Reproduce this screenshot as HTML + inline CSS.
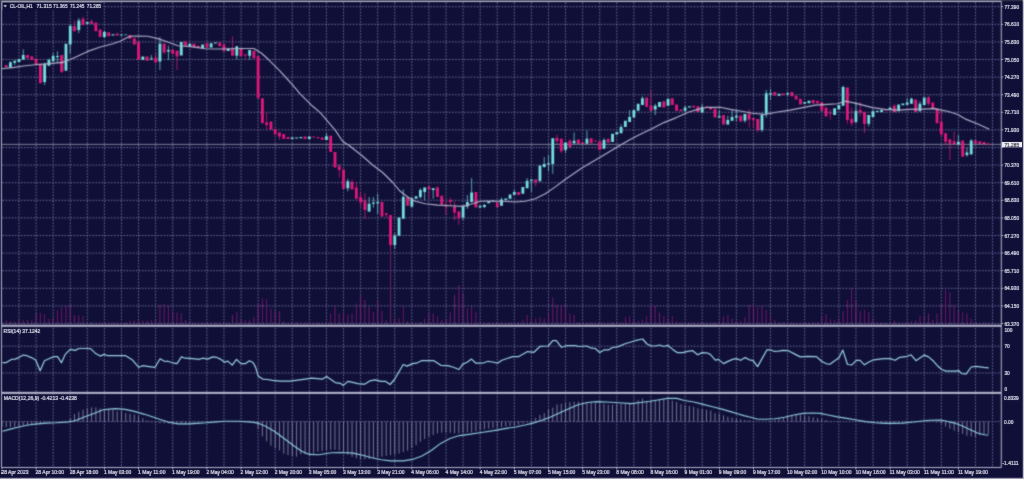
<!DOCTYPE html><html><head><meta charset="utf-8"><style>html,body{margin:0;padding:0;background:#0f0f37;overflow:hidden}svg{display:block}</style></head><body><svg width="1024" height="479" viewBox="0 0 1024 479">
<defs><filter id="b" x="0" y="0" width="1" height="1"><feConvolveMatrix order="3" kernelMatrix="1 2 1 2 10 2 1 2 1" divisor="22" edgeMode="duplicate"/></filter><filter id="t" x="0" y="0" width="1" height="1"><feConvolveMatrix order="3" kernelMatrix="0 1 0 1 16 1 0 1 0" divisor="20" edgeMode="duplicate"/></filter></defs>
<rect width="1024" height="479" fill="#0f0f37"/>
<g filter="url(#b)">
<path d="M19.00 2.5V467 M36.08 2.5V467 M53.16 2.5V467 M70.24 2.5V467 M87.32 2.5V467 M104.40 2.5V467 M121.48 2.5V467 M138.56 2.5V467 M155.64 2.5V467 M172.72 2.5V467 M189.80 2.5V467 M206.88 2.5V467 M223.96 2.5V467 M241.04 2.5V467 M258.12 2.5V467 M275.20 2.5V467 M292.28 2.5V467 M309.36 2.5V467 M326.44 2.5V467 M343.52 2.5V467 M360.60 2.5V467 M377.68 2.5V467 M394.76 2.5V467 M411.84 2.5V467 M428.92 2.5V467 M446.00 2.5V467 M463.08 2.5V467 M480.16 2.5V467 M497.24 2.5V467 M514.32 2.5V467 M531.40 2.5V467 M548.48 2.5V467 M565.56 2.5V467 M582.64 2.5V467 M599.72 2.5V467 M616.80 2.5V467 M633.88 2.5V467 M650.96 2.5V467 M668.04 2.5V467 M685.12 2.5V467 M702.20 2.5V467 M719.28 2.5V467 M736.36 2.5V467 M753.44 2.5V467 M770.52 2.5V467 M787.60 2.5V467 M804.68 2.5V467 M821.76 2.5V467 M838.84 2.5V467 M855.92 2.5V467 M873.00 2.5V467 M890.08 2.5V467 M907.16 2.5V467 M924.24 2.5V467 M941.32 2.5V467 M958.40 2.5V467 M975.48 2.5V467 M992.56 2.5V467" stroke="#7878ac" stroke-width="0.9" stroke-dasharray="1.5 1.6" fill="none"/>
<path d="M2.5 6.70H1001 M2.5 24.30H1001 M2.5 41.90H1001 M2.5 59.50H1001 M2.5 77.10H1001 M2.5 94.70H1001 M2.5 112.30H1001 M2.5 129.90H1001 M2.5 147.50H1001 M2.5 165.10H1001 M2.5 182.70H1001 M2.5 200.30H1001 M2.5 217.90H1001 M2.5 235.50H1001 M2.5 253.10H1001 M2.5 270.70H1001 M2.5 288.30H1001 M2.5 305.90H1001 M2.5 323.50H1001 M2.5 346.20H1001 M2.5 373.00H1001 M2.5 421.60H1001" stroke="#7878ac" stroke-width="0.9" stroke-dasharray="1.5 1.6" fill="none"/>
<rect x="2.2" y="2.2" width="100.8" height="7.6" fill="#0f0f37"/>
<path d="M6.19 323.8V320.40 M10.46 323.8V321.00 M14.73 323.8V321.50 M19.00 323.8V319.80 M23.27 323.8V319.80 M27.54 323.8V319.80 M31.81 323.8V320.40 M36.08 323.8V314.00 M40.35 323.8V312.90 M44.62 323.8V314.00 M48.89 323.8V318.50 M53.16 323.8V318.00 M57.43 323.8V309.80 M61.70 323.8V307.30 M65.97 323.8V306.00 M70.24 323.8V304.80 M74.51 323.8V315.40 M78.78 323.8V315.40 M83.05 323.8V316.00 M87.32 323.8V322.00 M91.59 323.8V322.20 M95.86 323.8V322.20 M100.13 323.8V322.20 M104.40 323.8V322.20 M108.67 323.8V322.20 M112.94 323.8V322.20 M117.21 323.8V322.20 M121.48 323.8V322.20 M125.75 323.8V322.20 M130.02 323.8V320.60 M134.29 323.8V320.60 M138.56 323.8V320.00 M142.83 323.8V320.60 M147.10 323.8V320.60 M151.37 323.8V320.00 M155.64 323.8V320.00 M159.91 323.8V305.00 M164.18 323.8V303.75 M168.45 323.8V305.60 M172.72 323.8V311.90 M176.99 323.8V312.50 M181.26 323.8V313.10 M185.53 323.8V320.00 M189.80 323.8V321.00 M194.07 323.8V322.20 M198.34 323.8V322.20 M202.61 323.8V322.20 M206.88 323.8V322.20 M211.15 323.8V322.20 M215.42 323.8V322.20 M219.69 323.8V322.20 M223.96 323.8V322.20 M228.23 323.8V322.20 M232.50 323.8V315.00 M236.77 323.8V312.00 M241.04 323.8V319.50 M245.31 323.8V320.00 M249.58 323.8V320.00 M253.85 323.8V317.00 M258.12 323.8V303.50 M262.39 323.8V298.50 M266.66 323.8V299.00 M270.93 323.8V308.50 M275.20 323.8V311.00 M279.47 323.8V311.00 M283.74 323.8V321.00 M288.01 323.8V322.20 M292.28 323.8V322.20 M296.55 323.8V322.20 M300.82 323.8V322.20 M305.09 323.8V322.20 M309.36 323.8V322.20 M313.63 323.8V322.20 M317.90 323.8V322.20 M322.17 323.8V322.20 M326.44 323.8V322.20 M330.71 323.8V313.50 M334.98 323.8V306.00 M339.25 323.8V313.50 M343.52 323.8V312.00 M347.79 323.8V314.75 M352.06 323.8V313.50 M356.33 323.8V303.50 M360.60 323.8V296.00 M364.87 323.8V299.75 M369.14 323.8V307.00 M373.41 323.8V312.00 M377.68 323.8V299.75 M381.95 323.8V311.00 M386.22 323.8V320.00 M390.49 323.8V250.00 M394.76 323.8V319.75 M399.03 323.8V318.50 M403.30 323.8V306.00 M407.57 323.8V321.00 M411.84 323.8V322.20 M416.11 323.8V322.20 M420.38 323.8V322.20 M424.65 323.8V318.50 M428.92 323.8V312.25 M433.19 323.8V313.50 M437.46 323.8V316.00 M441.73 323.8V319.75 M446.00 323.8V319.75 M450.27 323.8V312.25 M454.54 323.8V294.75 M458.81 323.8V284.75 M463.08 323.8V293.50 M467.35 323.8V308.50 M471.62 323.8V306.00 M475.89 323.8V312.25 M480.16 323.8V321.00 M484.43 323.8V322.20 M488.70 323.8V322.20 M492.97 323.8V322.20 M497.24 323.8V322.20 M501.51 323.8V322.20 M505.78 323.8V322.20 M510.05 323.8V322.20 M514.32 323.8V322.20 M518.59 323.8V322.20 M522.86 323.8V319.75 M527.13 323.8V314.75 M531.40 323.8V318.50 M535.67 323.8V318.50 M539.94 323.8V317.25 M544.21 323.8V318.50 M548.48 323.8V312.25 M552.75 323.8V297.25 M557.02 323.8V304.75 M561.29 323.8V304.75 M565.56 323.8V304.75 M569.83 323.8V313.50 M574.10 323.8V314.75 M578.37 323.8V322.20 M582.64 323.8V322.20 M586.91 323.8V322.20 M591.18 323.8V322.20 M595.45 323.8V322.20 M599.72 323.8V322.20 M603.99 323.8V322.20 M608.26 323.8V322.20 M612.53 323.8V322.20 M616.80 323.8V322.20 M621.07 323.8V322.20 M625.34 323.8V317.25 M629.61 323.8V316.00 M633.88 323.8V319.75 M638.15 323.8V320.50 M642.42 323.8V319.75 M646.69 323.8V316.00 M650.96 323.8V304.75 M655.23 323.8V306.00 M659.50 323.8V312.25 M663.77 323.8V316.00 M668.04 323.8V318.50 M672.31 323.8V316.00 M676.58 323.8V321.00 M680.85 323.8V322.20 M685.12 323.8V322.20 M689.39 323.8V322.20 M693.66 323.8V322.20 M697.93 323.8V322.20 M702.20 323.8V322.20 M706.47 323.8V322.20 M710.74 323.8V322.20 M715.01 323.8V322.20 M719.28 323.8V321.00 M723.55 323.8V316.00 M727.82 323.8V314.75 M732.09 323.8V318.50 M736.36 323.8V321.00 M740.63 323.8V321.00 M744.90 323.8V317.25 M749.17 323.8V304.75 M753.44 323.8V304.75 M757.71 323.8V307.25 M761.98 323.8V306.00 M766.25 323.8V309.75 M770.52 323.8V314.75 M774.79 323.8V320.00 M779.06 323.8V322.20 M783.33 323.8V322.20 M787.60 323.8V322.20 M791.87 323.8V322.20 M796.14 323.8V322.20 M800.41 323.8V322.20 M804.68 323.8V322.20 M808.95 323.8V322.20 M813.22 323.8V322.20 M817.49 323.8V322.20 M821.76 323.8V316.00 M826.03 323.8V314.00 M830.30 323.8V319.00 M834.57 323.8V320.00 M838.84 323.8V318.50 M843.11 323.8V311.00 M847.38 323.8V299.75 M851.65 323.8V288.50 M855.92 323.8V301.00 M860.19 323.8V311.00 M864.46 323.8V310.00 M868.73 323.8V312.00 M873.00 323.8V318.50 M877.27 323.8V322.20 M881.54 323.8V322.20 M885.81 323.8V322.20 M890.08 323.8V322.20 M894.35 323.8V320.50 M898.62 323.8V322.20 M902.89 323.8V322.20 M907.16 323.8V322.20 M911.43 323.8V321.00 M915.70 323.8V320.50 M919.97 323.8V316.00 M924.24 323.8V314.75 M928.51 323.8V313.50 M932.78 323.8V319.75 M937.05 323.8V313.50 M941.32 323.8V304.75 M945.59 323.8V289.75 M949.86 323.8V292.25 M954.13 323.8V304.75 M958.40 323.8V311.00 M962.67 323.8V312.25 M966.94 323.8V313.50 M971.21 323.8V318.50 M975.48 323.8V322.20 M979.75 323.8V322.20 M984.02 323.8V322.20 M988.29 323.8V322.20" stroke="#8a1e78" stroke-width="0.8" fill="none"/>
<path d="M2 144.4H1001" stroke="#9c9cb0" stroke-width="0.8"/>
<path d="M10.46 61.30V67.60 M14.73 60.70V65.00 M23.27 49.40V60.00 M44.62 62.80V85.10 M48.89 58.60V65.70 M53.16 53.20V61.30 M57.43 51.30V62.60 M70.24 24.40V53.80 M78.78 18.10V33.20 M104.40 30.70V38.20 M151.37 55.10V60.10 M159.91 37.00V70.00 M168.45 45.70V60.10 M236.77 46.30V59.40 M249.58 50.00V59.40 M326.44 133.20V140.00 M347.79 178.80V191.30 M369.14 197.00V212.00 M373.41 197.00V207.60 M377.68 193.80V213.90 M394.76 233.20V248.90 M403.30 189.40V218.80 M411.84 197.00V207.50 M420.38 188.20V198.80 M424.65 187.60V200.10 M433.19 188.20V198.80 M463.08 205.70V220.10 M467.35 195.00V208.90 M471.62 178.20V202.60 M484.43 203.80V208.20 M501.51 197.60V205.70 M514.32 190.10V194.80 M527.13 178.20V188.20 M531.40 179.40V191.90 M544.21 157.00V167.60 M548.48 155.10V171.40 M552.75 138.20V173.90 M565.56 142.60V153.20 M574.10 132.50V144.40 M586.91 130.70V143.80 M603.99 138.20V148.80 M621.07 124.40V133.20 M629.61 110.10V122.00 M642.42 96.30V105.10 M655.23 103.80V115.10 M685.12 105.70V112.00 M702.20 103.80V112.60 M719.28 110.00V117.60 M727.82 115.70V124.50 M732.09 110.10V120.70 M736.36 110.10V121.40 M744.90 114.00V122.60 M761.98 112.60V132.00 M766.25 90.00V117.60 M770.52 88.80V100.10 M787.60 91.90V95.70 M843.11 85.60V105.70 M855.92 101.90V123.20 M868.73 115.10V126.40 M873.00 109.40V117.00 M907.16 98.20V104.80 M911.43 97.50V103.80 M919.97 101.30V111.30 M958.40 135.00V145.00 M966.94 147.60V156.80 M971.21 139.20V155.10" stroke="#78e0e0" stroke-width="0.7" fill="none"/>
<path d="M9.06 62.30h2.8v5.30h-2.8z M13.33 60.70h2.8v2.10h-2.8z M17.60 59.10h2.8v2.90h-2.8z M21.87 55.10h2.8v4.30h-2.8z M43.22 63.80h2.8v18.20h-2.8z M47.49 60.10h2.8v5.60h-2.8z M51.76 56.10h2.8v5.20h-2.8z M56.03 56.10h2.8v1.00h-2.8z M64.57 43.80h2.8v26.90h-2.8z M68.84 26.00h2.8v18.40h-2.8z M77.38 20.60h2.8v9.40h-2.8z M85.92 21.90h2.8v1.90h-2.8z M103.00 31.90h2.8v5.10h-2.8z M111.54 34.20h2.8v1.20h-2.8z M120.08 34.60h2.8v0.80h-2.8z M124.35 34.40h2.8v0.80h-2.8z M141.43 56.40h2.8v3.60h-2.8z M149.97 58.60h2.8v0.80h-2.8z M158.51 43.80h2.8v17.60h-2.8z M167.05 50.00h2.8v1.40h-2.8z M179.86 42.00h2.8v13.40h-2.8z M188.40 43.80h2.8v2.50h-2.8z M201.21 44.40h2.8v3.80h-2.8z M209.75 43.20h2.8v4.30h-2.8z M214.02 42.60h2.8v1.00h-2.8z M226.83 48.50h2.8v2.50h-2.8z M235.37 46.30h2.8v9.40h-2.8z M248.18 50.00h2.8v5.70h-2.8z M290.88 137.60h2.8v1.30h-2.8z M295.15 137.60h2.8v1.00h-2.8z M299.42 137.00h2.8v1.30h-2.8z M307.96 136.40h2.8v2.50h-2.8z M325.04 136.30h2.8v3.70h-2.8z M346.39 181.30h2.8v6.90h-2.8z M367.74 203.80h2.8v7.60h-2.8z M372.01 202.60h2.8v1.20h-2.8z M376.28 202.00h2.8v1.20h-2.8z M393.36 235.70h2.8v9.40h-2.8z M397.63 217.50h2.8v18.20h-2.8z M401.90 197.00h2.8v21.80h-2.8z M410.44 198.20h2.8v8.20h-2.8z M414.71 196.30h2.8v2.50h-2.8z M418.98 190.00h2.8v7.00h-2.8z M423.25 187.60h2.8v4.30h-2.8z M431.79 188.20h2.8v1.90h-2.8z M461.68 205.70h2.8v11.90h-2.8z M465.95 202.00h2.8v4.40h-2.8z M470.22 192.60h2.8v9.40h-2.8z M478.76 205.70h2.8v1.90h-2.8z M483.03 205.10h2.8v1.90h-2.8z M487.30 201.30h2.8v1.90h-2.8z M491.57 200.50h2.8v1.00h-2.8z M500.11 199.50h2.8v6.20h-2.8z M504.38 198.60h2.8v1.50h-2.8z M508.65 194.40h2.8v4.40h-2.8z M512.92 191.90h2.8v2.90h-2.8z M521.46 186.90h2.8v6.90h-2.8z M525.73 180.70h2.8v7.50h-2.8z M530.00 179.40h2.8v1.30h-2.8z M538.54 165.60h2.8v15.70h-2.8z M542.81 163.90h2.8v3.10h-2.8z M547.08 163.20h2.8v1.30h-2.8z M551.35 138.20h2.8v25.70h-2.8z M564.16 142.60h2.8v7.50h-2.8z M572.70 140.70h2.8v2.50h-2.8z M585.51 138.80h2.8v5.00h-2.8z M602.59 140.00h2.8v8.80h-2.8z M611.13 133.80h2.8v8.10h-2.8z M615.40 131.90h2.8v2.50h-2.8z M619.67 126.90h2.8v6.30h-2.8z M623.94 120.70h2.8v6.30h-2.8z M628.21 117.00h2.8v5.00h-2.8z M632.48 110.10h2.8v7.50h-2.8z M636.75 103.80h2.8v6.90h-2.8z M641.02 98.20h2.8v6.90h-2.8z M653.83 105.70h2.8v3.70h-2.8z M658.10 101.90h2.8v5.00h-2.8z M666.64 98.80h2.8v6.90h-2.8z M683.72 107.60h2.8v3.10h-2.8z M687.99 106.30h2.8v1.30h-2.8z M700.80 106.90h2.8v5.70h-2.8z M717.88 116.30h2.8v1.30h-2.8z M726.42 120.10h2.8v4.40h-2.8z M730.69 117.00h2.8v3.70h-2.8z M734.96 115.70h2.8v1.90h-2.8z M743.50 114.00h2.8v6.70h-2.8z M760.58 115.10h2.8v15.00h-2.8z M764.85 93.20h2.8v20.60h-2.8z M769.12 93.20h2.8v1.20h-2.8z M777.66 93.80h2.8v1.90h-2.8z M786.20 93.20h2.8v1.20h-2.8z M803.28 101.90h2.8v1.90h-2.8z M807.55 100.70h2.8v2.50h-2.8z M833.17 108.20h2.8v6.90h-2.8z M837.44 105.10h2.8v4.40h-2.8z M841.71 86.90h2.8v18.80h-2.8z M854.52 110.70h2.8v11.30h-2.8z M867.33 115.10h2.8v8.70h-2.8z M871.60 111.30h2.8v5.70h-2.8z M875.87 110.70h2.8v1.30h-2.8z M880.14 110.00h2.8v2.00h-2.8z M888.68 107.60h2.8v1.80h-2.8z M897.22 104.40h2.8v6.90h-2.8z M901.49 103.50h2.8v1.80h-2.8z M905.76 102.50h2.8v2.30h-2.8z M910.03 98.80h2.8v5.00h-2.8z M918.57 103.80h2.8v7.50h-2.8z M922.84 97.50h2.8v7.50h-2.8z M957.00 141.70h2.8v2.50h-2.8z M965.54 152.60h2.8v2.50h-2.8z M969.81 140.50h2.8v13.80h-2.8z" fill="#78e0e0"/>
<path d="M36.08 58.00V63.80 M61.70 55.10V73.20 M74.51 20.60V31.30 M83.05 16.90V25.00 M91.59 19.40V23.80 M155.64 53.20V62.60 M164.18 43.80V53.90 M176.99 50.70V70.00 M232.50 36.30V55.70 M245.31 53.80V59.40 M266.66 112.60V130.00 M279.47 132.60V140.00 M339.25 164.00V177.50 M352.06 179.40V189.40 M356.33 182.50V198.80 M360.60 192.00V206.40 M364.87 193.20V218.90 M386.22 212.50V217.50 M390.49 215.00V250.00 M428.92 185.00V198.80 M437.46 186.30V197.00 M446.00 201.30V215.10 M450.27 197.60V206.40 M454.54 201.30V220.10 M458.81 211.40V225.00 M535.67 179.40V186.30 M557.02 134.40V143.80 M561.29 138.80V153.20 M569.83 138.80V148.80 M650.96 90.00V110.70 M749.17 108.80V127.60 M753.44 118.20V127.60 M757.71 118.90V132.60 M830.30 108.80V119.50 M847.38 87.50V123.90 M851.65 107.60V126.40 M860.19 101.90V116.40 M864.46 112.00V133.20 M894.35 103.80V112.00 M928.51 95.60V105.70 M941.32 111.30V136.40 M945.59 133.20V145.10 M949.86 139.20V160.00 M954.13 131.70V144.20 M988.29 142.60V145.30" stroke="#e2187c" stroke-width="0.7" fill="none"/>
<path d="M4.79 65.10h2.8v1.90h-2.8z M26.14 55.10h2.8v3.10h-2.8z M30.41 56.30h2.8v3.50h-2.8z M34.68 59.10h2.8v4.70h-2.8z M38.95 63.80h2.8v19.50h-2.8z M60.30 55.10h2.8v16.90h-2.8z M73.11 26.30h2.8v5.00h-2.8z M81.65 18.80h2.8v6.20h-2.8z M90.19 21.30h2.8v2.50h-2.8z M94.46 22.50h2.8v8.80h-2.8z M98.73 29.40h2.8v7.60h-2.8z M107.27 32.30h2.8v4.00h-2.8z M115.81 33.60h2.8v1.80h-2.8z M128.62 35.00h2.8v3.80h-2.8z M132.89 38.20h2.8v6.30h-2.8z M137.16 42.00h2.8v18.00h-2.8z M145.70 56.40h2.8v4.40h-2.8z M154.24 57.60h2.8v5.00h-2.8z M162.78 43.80h2.8v8.80h-2.8z M171.32 49.50h2.8v4.40h-2.8z M175.59 50.70h2.8v5.70h-2.8z M184.13 41.30h2.8v4.40h-2.8z M192.67 43.80h2.8v3.10h-2.8z M196.94 45.70h2.8v1.80h-2.8z M205.48 43.20h2.8v4.30h-2.8z M218.29 42.50h2.8v3.80h-2.8z M222.56 44.40h2.8v6.90h-2.8z M231.10 48.80h2.8v6.90h-2.8z M239.64 48.20h2.8v8.10h-2.8z M243.91 54.50h2.8v1.00h-2.8z M252.45 50.70h2.8v7.50h-2.8z M256.72 56.30h2.8v41.90h-2.8z M260.99 98.20h2.8v25.00h-2.8z M265.26 122.60h2.8v2.50h-2.8z M269.53 121.40h2.8v8.10h-2.8z M273.80 128.90h2.8v5.60h-2.8z M278.07 132.60h2.8v3.80h-2.8z M282.34 133.90h2.8v5.00h-2.8z M286.61 137.00h2.8v1.90h-2.8z M303.69 136.40h2.8v2.50h-2.8z M312.23 136.40h2.8v1.20h-2.8z M316.50 137.00h2.8v1.20h-2.8z M320.77 137.50h2.8v2.30h-2.8z M329.31 135.70h2.8v16.30h-2.8z M333.58 152.00h2.8v15.60h-2.8z M337.85 166.30h2.8v3.70h-2.8z M342.12 169.40h2.8v19.40h-2.8z M350.66 181.90h2.8v7.50h-2.8z M354.93 187.60h2.8v11.20h-2.8z M359.20 197.00h2.8v5.60h-2.8z M363.47 200.70h2.8v9.40h-2.8z M380.55 202.00h2.8v14.40h-2.8z M384.82 213.50h2.8v1.50h-2.8z M389.09 215.00h2.8v30.10h-2.8z M406.17 197.60h2.8v8.10h-2.8z M427.52 187.00h2.8v2.00h-2.8z M436.06 187.60h2.8v9.40h-2.8z M440.33 195.70h2.8v8.80h-2.8z M444.60 205.00h2.8v1.50h-2.8z M448.87 200.00h2.8v2.00h-2.8z M453.14 207.00h2.8v5.60h-2.8z M457.41 211.40h2.8v6.90h-2.8z M474.49 191.90h2.8v15.70h-2.8z M495.84 202.60h2.8v4.40h-2.8z M517.19 191.90h2.8v3.20h-2.8z M534.27 179.40h2.8v3.10h-2.8z M555.62 138.00h2.8v3.00h-2.8z M559.89 138.80h2.8v12.50h-2.8z M568.43 140.70h2.8v6.20h-2.8z M576.97 139.40h2.8v4.40h-2.8z M581.24 141.90h2.8v1.90h-2.8z M589.78 138.20h2.8v5.00h-2.8z M594.05 140.50h2.8v1.00h-2.8z M598.32 141.30h2.8v8.80h-2.8z M606.86 138.80h2.8v3.80h-2.8z M645.29 97.50h2.8v9.40h-2.8z M649.56 105.70h2.8v5.00h-2.8z M662.37 101.30h2.8v6.30h-2.8z M670.91 98.20h2.8v6.90h-2.8z M675.18 104.40h2.8v6.30h-2.8z M679.45 109.40h2.8v1.90h-2.8z M692.26 105.70h2.8v1.90h-2.8z M696.53 106.30h2.8v5.70h-2.8z M705.07 106.50h2.8v1.50h-2.8z M709.34 106.90h2.8v2.50h-2.8z M713.61 108.80h2.8v8.80h-2.8z M722.15 115.10h2.8v9.40h-2.8z M739.23 115.40h2.8v6.00h-2.8z M747.77 113.80h2.8v5.70h-2.8z M752.04 118.20h2.8v1.90h-2.8z M756.31 118.90h2.8v11.20h-2.8z M773.39 91.90h2.8v3.80h-2.8z M781.93 93.50h2.8v1.80h-2.8z M790.47 91.90h2.8v4.40h-2.8z M794.74 95.70h2.8v3.70h-2.8z M799.01 98.80h2.8v5.60h-2.8z M811.82 100.10h2.8v3.10h-2.8z M816.09 100.70h2.8v2.50h-2.8z M820.36 101.90h2.8v8.80h-2.8z M824.63 107.60h2.8v8.80h-2.8z M828.90 112.50h2.8v1.00h-2.8z M845.98 87.50h2.8v32.60h-2.8z M850.25 118.90h2.8v4.30h-2.8z M858.79 110.10h2.8v2.40h-2.8z M863.06 112.00h2.8v11.90h-2.8z M884.41 109.50h2.8v1.00h-2.8z M892.95 105.70h2.8v6.30h-2.8z M914.30 99.40h2.8v12.60h-2.8z M927.11 97.50h2.8v6.30h-2.8z M931.38 102.50h2.8v6.30h-2.8z M935.65 108.80h2.8v14.40h-2.8z M939.92 122.00h2.8v12.50h-2.8z M944.19 133.20h2.8v8.50h-2.8z M948.46 139.20h2.8v4.20h-2.8z M952.73 141.30h2.8v2.90h-2.8z M961.27 140.50h2.8v16.30h-2.8z M974.08 140.50h2.8v2.90h-2.8z M978.35 141.30h2.8v2.50h-2.8z M982.62 142.10h2.8v2.10h-2.8z M986.89 143.75h2.8v0.80h-2.8z" fill="#e2187c"/>
<polyline points="1.6,68.8 12.5,67.6 25,65.7 37.6,64.5 50,63.6 62.5,62.4 70.2,59.5 78,56 87.7,51.4 100.3,47 112.8,43.8 120.2,41.3 125.3,38.6 130.2,36.3 137.7,36.1 147.7,36.3 157.7,38.6 167.8,42 177.8,45.7 185.3,46.3 192.5,46.9 205,48.8 217.6,49 230.1,48.8 242.7,48.5 253.9,48.5 261.5,53.2 267.7,58.8 280.3,71.4 286.3,78 292.8,85.1 300.1,93.8 312.7,106.3 320.2,112.6 327.7,121.4 335.2,130.1 342.6,141.3 350.1,146.3 362.7,156.3 372.6,165 382.6,172.5 392.7,182.5 400.2,191.3 407.7,197 415.2,201.3 425.2,203.8 437.8,205.1 450.3,205.7 462.6,206.4 472.6,203.8 480.1,201.3 490.1,201.1 502.7,201.3 515.2,202 525.2,201.3 535.2,198.8 545.3,193.8 555.3,186.9 565.1,179.5 582.6,167.6 597.6,158.8 615.2,148.2 628.8,140.3 638.8,135.1 651.3,128.9 663.9,122.6 676.4,117.6 688.9,112 697.7,109.4 707.7,107.3 720.3,107.3 730.3,109.4 740.3,111 752.5,113.2 765.1,114.5 777.6,112 790.1,110.1 802.7,107.6 815.2,105.1 827.7,104.4 837.7,103.8 845.3,101.3 852.8,102.6 860,104.4 872.5,107.6 885.1,109.4 897.6,110.1 910.1,109.4 922.7,109.1 935.2,108.6 941.5,110.1 947.7,111.3 957.7,114.5 966.2,119.4 979,124.5 989.3,129.2" fill="none" stroke="#b0aecb" stroke-width="1.15" stroke-linejoin="round"/>
<polyline points="2.5,362.6 6.3,362.6 11.3,359.4 15,359.1 18.8,357.6 23.2,355.1 26.9,355.7 31.3,357.6 35.7,360.1 40.1,370.7 44.5,360.7 48.9,358.8 53.9,356.6 57.6,356.6 61.4,362.8 65.2,354.4 70.2,349.4 75.2,350.4 78.9,348.5 87.7,348.5 90.9,348.8 95.2,353.2 100.3,356.1 104,354.4 107.8,355.7 121.6,355.7 125.6,355.7 132.5,360.1 138.8,367.3 142.6,365.7 147.6,366.3 155.1,367.3 160.1,358.8 163.9,361.1 167.6,361.3 172.6,362.8 177,363.6 181.4,356.9 185.2,358.2 192.7,358.6 198.9,359.4 202.7,358.2 207.7,359.1 212.7,356.9 216.5,357.3 220.3,359.1 224.6,362.3 227.8,361.1 232.2,365.1 236.5,359.4 240.9,363.6 245.6,363.6 249.4,360.7 253.2,362.8 255.7,367.6 258.2,376.1 262.6,379.1 267.6,379.5 272.6,380.4 280.1,381.1 290.1,381.1 297.6,380.1 305.2,379.1 311.4,378.2 317.7,378.6 322.7,379.1 326.5,376.6 330.2,379.1 335.2,382.6 340.3,383.3 343.4,385.4 347.8,381.4 352.8,382.4 357.8,383.6 362.8,384.1 365,384.1 370,380.8 375,379.9 381.3,381.4 385.7,381.4 390.1,384.5 394.5,379.5 403.2,364.5 407,366.1 412.6,363.6 416.4,363.2 421.4,360.7 433.9,360.7 440.8,365.3 447.7,365.7 452.7,367 459,369.5 462.8,364.1 467.1,362.3 471.5,359.1 475.9,363.2 480,363.2 483.8,362.8 488.1,361.3 492.5,362 497.5,363.2 501.9,360.3 506.3,358.8 512.6,356.6 518.8,356.6 527.6,351.6 533.9,352.3 540.2,346.3 548.3,346 552.7,340.7 556.4,340.7 561.5,347.3 566.5,345.7 575.2,345.7 579,346.5 586.5,346 591.5,348.2 595.3,348.5 599.7,352.6 604.4,349.8 608.8,349.8 612.5,347.5 617.5,346.9 625.1,343.8 635.1,340.7 642.6,339 647,344 651.4,346 655.1,346 659.5,345 663.9,346.5 667.7,345.3 672.7,349.4 677.1,352.6 682.7,352.6 687.7,351.3 692.7,350.7 697.7,354.8 702.1,352.6 706.5,352.8 710.3,354.4 715.3,360.1 718.4,359.4 723.6,363.6 727.5,361.6 732.5,359.4 736.3,358.6 740.7,360.3 745.1,357.6 749.4,359.8 753.2,360.7 757.6,366.6 762.6,357.6 767,349.8 770.1,349.8 773.9,351.3 778.9,351.1 782.7,350.3 788.3,350.7 793.9,353.6 800.2,356.9 807.7,356.3 816.5,356.6 821.5,361.3 826.5,363.8 830.3,364.1 834,361.3 839,357.8 842.8,350.1 847.5,364.5 851.9,364.8 856.3,360.3 860.1,360.3 864.4,364.8 868.8,362 873.8,359.8 877.6,359.4 883.9,358.6 890.1,358.6 895.1,360.3 899.8,357.3 907.3,356.3 911,354.8 916,360.7 924.2,355.1 928.6,356.9 933.6,361.3 937.4,365.7 941.7,369.5 946.1,371.1 956.2,371.1 958.7,370.7 961.8,373.6 966.2,373.9 971.2,367 976.2,366.3 983.7,367.3 988.7,367.8" fill="none" stroke="#9cd2e2" stroke-width="1.2" stroke-linejoin="round"/>
<path d="M1.92 421.6V427.00 M6.19 421.6V427.00 M10.46 421.6V426.97 M14.73 421.6V426.74 M19.00 421.6V426.50 M23.27 421.6V425.72 M27.54 421.6V424.95 M31.81 421.6V424.26 M36.08 421.6V423.69 M40.35 421.6V423.12 M44.62 421.6V422.55 M48.89 421.6V422.27 M53.16 421.6V422.01 M65.97 421.6V421.15 M70.24 421.6V418.30 M74.51 421.6V413.96 M78.78 421.6V411.85 M83.05 421.6V409.72 M87.32 421.6V408.36 M91.59 421.6V407.34 M95.86 421.6V407.43 M100.13 421.6V408.53 M104.40 421.6V409.36 M108.67 421.6V409.80 M112.94 421.6V409.95 M117.21 421.6V411.40 M121.48 421.6V410.67 M125.75 421.6V412.97 M130.02 421.6V413.72 M134.29 421.6V414.48 M138.56 421.6V416.36 M142.83 421.6V418.41 M147.10 421.6V420.46 M151.37 421.6V422.24 M155.64 421.6V422.86 M159.91 421.6V423.29 M164.18 421.6V423.36 M168.45 421.6V423.41 M172.72 421.6V423.47 M176.99 421.6V423.43 M181.26 421.6V423.29 M185.53 421.6V423.15 M189.80 421.6V423.01 M194.07 421.6V422.81 M198.34 421.6V422.61 M202.61 421.6V422.41 M206.88 421.6V422.25 M211.15 421.6V422.14 M215.42 421.6V422.02 M245.31 421.6V422.22 M249.58 421.6V422.47 M253.85 421.6V422.73 M258.12 421.6V428.76 M262.39 421.6V436.41 M266.66 421.6V441.36 M270.93 421.6V445.63 M275.20 421.6V448.20 M279.47 421.6V450.38 M283.74 421.6V453.65 M288.01 421.6V455.10 M292.28 421.6V456.01 M296.55 421.6V456.65 M300.82 421.6V454.40 M305.09 421.6V454.37 M309.36 421.6V454.02 M313.63 421.6V453.46 M317.90 421.6V451.90 M322.17 421.6V451.24 M326.44 421.6V450.43 M330.71 421.6V449.98 M334.98 421.6V449.80 M339.25 421.6V450.56 M343.52 421.6V452.27 M347.79 421.6V454.45 M352.06 421.6V456.86 M356.33 421.6V458.31 M360.60 421.6V459.13 M364.87 421.6V459.39 M369.14 421.6V459.04 M373.41 421.6V458.30 M377.68 421.6V457.44 M381.95 421.6V456.71 M386.22 421.6V455.85 M390.49 421.6V455.22 M394.76 421.6V454.36 M399.03 421.6V453.63 M403.30 421.6V451.94 M407.57 421.6V450.57 M411.84 421.6V448.01 M416.11 421.6V445.19 M420.38 421.6V441.85 M424.65 421.6V439.03 M428.92 421.6V436.39 M433.19 421.6V434.94 M437.46 421.6V433.32 M441.73 421.6V432.58 M446.00 421.6V432.50 M450.27 421.6V432.83 M454.54 421.6V433.28 M458.81 421.6V433.28 M463.08 421.6V432.82 M467.35 421.6V432.49 M471.62 421.6V432.22 M475.89 421.6V431.27 M480.16 421.6V430.12 M484.43 421.6V429.39 M488.70 421.6V428.67 M492.97 421.6V428.10 M497.24 421.6V427.83 M501.51 421.6V427.02 M505.78 421.6V426.38 M510.05 421.6V425.92 M514.32 421.6V425.54 M518.59 421.6V424.74 M522.86 421.6V423.55 M527.13 421.6V422.35 M531.40 421.6V420.73 M535.67 421.6V417.86 M539.94 421.6V414.95 M544.21 421.6V413.11 M548.48 421.6V409.76 M552.75 421.6V407.67 M557.02 421.6V404.40 M561.29 421.6V403.67 M565.56 421.6V402.51 M569.83 421.6V402.05 M574.10 421.6V401.61 M578.37 421.6V401.60 M582.64 421.6V401.98 M586.91 421.6V402.02 M591.18 421.6V402.48 M595.45 421.6V402.83 M599.72 421.6V403.55 M603.99 421.6V403.63 M608.26 421.6V404.70 M612.53 421.6V404.70 M616.80 421.6V404.10 M621.07 421.6V404.10 M625.34 421.6V404.06 M629.61 421.6V403.52 M633.88 421.6V402.91 M638.15 421.6V400.21 M642.42 421.6V398.58 M646.69 421.6V401.46 M650.96 421.6V400.50 M655.23 421.6V400.41 M659.50 421.6V399.69 M663.77 421.6V399.46 M668.04 421.6V400.01 M672.31 421.6V400.63 M676.58 421.6V401.99 M680.85 421.6V404.18 M685.12 421.6V405.18 M689.39 421.6V405.95 M693.66 421.6V406.68 M697.93 421.6V408.34 M702.20 421.6V409.08 M706.47 421.6V409.83 M710.74 421.6V410.57 M715.01 421.6V413.04 M719.28 421.6V413.76 M723.55 421.6V415.35 M727.82 421.6V416.80 M732.09 421.6V417.72 M736.36 421.6V418.48 M740.63 421.6V419.21 M744.90 421.6V420.03 M749.17 421.6V420.30 M753.44 421.6V420.83 M770.52 421.6V421.08 M774.79 421.6V420.05 M779.06 421.6V418.65 M783.33 421.6V417.13 M787.60 421.6V415.98 M791.87 421.6V415.31 M796.14 421.6V415.00 M800.41 421.6V415.05 M804.68 421.6V415.58 M808.95 421.6V416.24 M813.22 421.6V417.24 M817.49 421.6V418.12 M821.76 421.6V419.15 M826.03 421.6V420.01 M830.30 421.6V421.02 M855.92 421.6V422.08 M860.19 421.6V422.21 M864.46 421.6V422.42 M868.73 421.6V422.64 M873.00 421.6V422.85 M877.27 421.6V423.06 M881.54 421.6V423.20 M885.81 421.6V423.20 M890.08 421.6V423.20 M894.35 421.6V423.20 M898.62 421.6V423.20 M902.89 421.6V423.08 M907.16 421.6V422.91 M911.43 421.6V422.74 M915.70 421.6V422.57 M919.97 421.6V422.40 M924.24 421.6V422.23 M928.51 421.6V422.06 M937.05 421.6V422.38 M941.32 421.6V423.71 M945.59 421.6V426.46 M949.86 421.6V428.72 M954.13 421.6V430.71 M958.40 421.6V432.17 M962.67 421.6V433.92 M966.94 421.6V435.83 M971.21 421.6V436.42 M975.48 421.6V436.88 M979.75 421.6V435.27 M984.02 421.6V434.45 M988.29 421.6V434.40" stroke="#a4a4c0" stroke-width="0.7" fill="none"/>
<polyline points="2.5,431.3 9.4,429.4 18.8,427 28.1,425 37.5,423.9 46.9,423.1 56.3,422.8 68.8,421.9 75,420.8 84.4,416.9 93.8,413.4 103.1,409.8 109.4,409.1 115.6,408.6 125,409.4 134.4,411.4 143.8,414.1 150,416.1 159.4,419.2 168.8,422.3 178.1,423.9 189.1,423.9 196.9,423.4 206.3,422.8 215.6,421.9 225,421.3 237.5,421.3 250,421.9 257.8,423.1 265.6,426.3 275,431.7 284.4,438.8 293.8,445.8 301.6,451.3 309.4,454.4 318.8,454.7 331.3,452.8 340.6,452.5 353.1,453.1 362.5,455.2 371.9,457.8 381.3,459.8 390.6,460.9 403.1,460.9 412.5,459.4 421.9,455.9 431.3,450.5 440.6,443.4 450,438.6 459.4,435.6 468.8,434.4 481.3,432.5 493.8,430.6 504.7,428.6 515.6,427 525,425 532.8,423.1 540.6,420.8 550,417.2 559.4,413 568.8,408.8 578.1,404.7 587.5,402.5 596.9,401.6 606.3,402 618.8,402.8 631.3,403.6 640.6,402.5 650,401.3 659.4,399.7 667.2,398.4 676.6,398.4 684.4,400.5 693.8,402 703.1,404.4 712.5,406.7 721.9,409.1 731.3,411.9 737.5,413.8 743.8,415.6 750.8,417.3 757.8,419.2 765.6,419.2 775,418.8 784.4,417.2 793.8,415 803.1,413.4 812.5,413 820.3,413.4 828.1,415 837.5,416.9 846.9,418.4 856.3,420 865.6,421.6 875,422.8 884.4,423.4 893.8,423.4 903.1,423.1 910.9,422.3 920.3,421.3 929.6,420.3 940.6,420 946.8,421.3 954.6,423.1 962.4,425.9 970.3,429.7 978.1,433.3 984.4,434.8 988.2,435.3" fill="none" stroke="#92cee0" stroke-width="1.1" stroke-linejoin="round"/>
<path d="M1.5 1.5H1001.3 V467.5 H1.5Z" stroke="#b8b8d0" stroke-width="1" fill="none"/>
<rect x="1" y="324.8" width="1000.3" height="2" fill="#b8b8d0"/>
<rect x="1" y="391.9" width="1000.3" height="2" fill="#b8b8d0"/>
<rect x="1023" y="0" width="1" height="479" fill="#e4e4ee"/>
<rect x="0" y="0" width="1023" height="1" fill="#34344e"/>
<rect x="0" y="478" width="1024" height="1" fill="#b8b8cc"/>
</g><g filter="url(#t)">
<g font-family="Liberation Sans, sans-serif" font-size="6.0" fill="#e4e4f2" stroke="#e4e4f2" stroke-width="0.22"><text x="1004.40" y="8.80" textLength="14.68" lengthAdjust="spacingAndGlyphs">77.390</text><text x="1004.40" y="26.40" textLength="14.68" lengthAdjust="spacingAndGlyphs">76.610</text><text x="1004.40" y="44.00" textLength="14.68" lengthAdjust="spacingAndGlyphs">75.830</text><text x="1004.40" y="61.60" textLength="14.68" lengthAdjust="spacingAndGlyphs">75.050</text><text x="1004.40" y="79.20" textLength="14.68" lengthAdjust="spacingAndGlyphs">74.270</text><text x="1004.40" y="96.80" textLength="14.68" lengthAdjust="spacingAndGlyphs">73.490</text><text x="1004.40" y="114.40" textLength="14.68" lengthAdjust="spacingAndGlyphs">72.710</text><text x="1004.40" y="132.00" textLength="14.68" lengthAdjust="spacingAndGlyphs">71.930</text><text x="1004.40" y="167.20" textLength="14.68" lengthAdjust="spacingAndGlyphs">70.370</text><text x="1004.40" y="184.80" textLength="14.68" lengthAdjust="spacingAndGlyphs">69.610</text><text x="1004.40" y="202.40" textLength="14.68" lengthAdjust="spacingAndGlyphs">68.830</text><text x="1004.40" y="220.00" textLength="14.68" lengthAdjust="spacingAndGlyphs">68.050</text><text x="1004.40" y="237.60" textLength="14.68" lengthAdjust="spacingAndGlyphs">67.270</text><text x="1004.40" y="255.20" textLength="14.68" lengthAdjust="spacingAndGlyphs">66.490</text><text x="1004.40" y="272.80" textLength="14.68" lengthAdjust="spacingAndGlyphs">65.710</text><text x="1004.40" y="290.40" textLength="14.68" lengthAdjust="spacingAndGlyphs">64.930</text><text x="1004.40" y="308.00" textLength="14.68" lengthAdjust="spacingAndGlyphs">64.150</text><text x="1004.40" y="325.60" textLength="14.68" lengthAdjust="spacingAndGlyphs">63.370</text><text x="1004.40" y="332.40" textLength="8.01" lengthAdjust="spacingAndGlyphs">100</text><text x="1004.40" y="348.40" textLength="5.34" lengthAdjust="spacingAndGlyphs">70</text><text x="1004.40" y="375.20" textLength="5.34" lengthAdjust="spacingAndGlyphs">30</text><text x="1004.40" y="390.50" textLength="2.67" lengthAdjust="spacingAndGlyphs">0</text><text x="1004.00" y="399.70" textLength="14.68" lengthAdjust="spacingAndGlyphs">0.8339</text><text x="1004.00" y="423.60" textLength="9.34" lengthAdjust="spacingAndGlyphs">0.00</text><text x="1002.40" y="465.00" textLength="16.28" lengthAdjust="spacingAndGlyphs">-1.4111</text><text x="1.40" y="474.40" textLength="27.13" lengthAdjust="spacingAndGlyphs">28 Apr 2023</text><text x="35.58" y="474.40" textLength="28.52" lengthAdjust="spacingAndGlyphs">28 Apr 10:00</text><text x="69.74" y="474.40" textLength="28.52" lengthAdjust="spacingAndGlyphs">28 Apr 18:00</text><text x="103.90" y="474.40" textLength="27.40" lengthAdjust="spacingAndGlyphs">1 May 03:00</text><text x="138.06" y="474.40" textLength="27.40" lengthAdjust="spacingAndGlyphs">1 May 11:00</text><text x="172.22" y="474.40" textLength="27.40" lengthAdjust="spacingAndGlyphs">1 May 19:00</text><text x="206.38" y="474.40" textLength="27.40" lengthAdjust="spacingAndGlyphs">2 May 04:00</text><text x="240.54" y="474.40" textLength="27.40" lengthAdjust="spacingAndGlyphs">2 May 12:00</text><text x="274.70" y="474.40" textLength="27.40" lengthAdjust="spacingAndGlyphs">2 May 20:00</text><text x="308.86" y="474.40" textLength="27.40" lengthAdjust="spacingAndGlyphs">3 May 05:00</text><text x="343.02" y="474.40" textLength="27.40" lengthAdjust="spacingAndGlyphs">3 May 13:00</text><text x="377.18" y="474.40" textLength="27.40" lengthAdjust="spacingAndGlyphs">3 May 21:00</text><text x="411.34" y="474.40" textLength="27.40" lengthAdjust="spacingAndGlyphs">4 May 06:00</text><text x="445.50" y="474.40" textLength="27.40" lengthAdjust="spacingAndGlyphs">4 May 14:00</text><text x="479.66" y="474.40" textLength="27.40" lengthAdjust="spacingAndGlyphs">4 May 22:00</text><text x="513.82" y="474.40" textLength="27.40" lengthAdjust="spacingAndGlyphs">5 May 07:00</text><text x="547.98" y="474.40" textLength="27.40" lengthAdjust="spacingAndGlyphs">5 May 15:00</text><text x="582.14" y="474.40" textLength="27.40" lengthAdjust="spacingAndGlyphs">5 May 23:00</text><text x="616.30" y="474.40" textLength="27.40" lengthAdjust="spacingAndGlyphs">8 May 08:00</text><text x="650.46" y="474.40" textLength="27.40" lengthAdjust="spacingAndGlyphs">8 May 16:00</text><text x="684.62" y="474.40" textLength="27.40" lengthAdjust="spacingAndGlyphs">9 May 01:00</text><text x="718.78" y="474.40" textLength="27.40" lengthAdjust="spacingAndGlyphs">9 May 09:00</text><text x="752.94" y="474.40" textLength="27.40" lengthAdjust="spacingAndGlyphs">9 May 17:00</text><text x="787.10" y="474.40" textLength="30.17" lengthAdjust="spacingAndGlyphs">10 May 02:00</text><text x="821.26" y="474.40" textLength="30.17" lengthAdjust="spacingAndGlyphs">10 May 10:00</text><text x="855.42" y="474.40" textLength="30.17" lengthAdjust="spacingAndGlyphs">10 May 18:00</text><text x="889.58" y="474.40" textLength="30.17" lengthAdjust="spacingAndGlyphs">11 May 03:00</text><text x="923.74" y="474.40" textLength="30.17" lengthAdjust="spacingAndGlyphs">11 May 11:00</text><text x="957.90" y="474.40" textLength="30.17" lengthAdjust="spacingAndGlyphs">11 May 19:00</text><text x="9.7" y="7.9" textLength="23.1" lengthAdjust="spacingAndGlyphs">CL-OIL,H1</text><text x="36.6" y="7.9" textLength="15.2" lengthAdjust="spacingAndGlyphs">71.315</text><text x="53.1" y="7.9" textLength="14.5" lengthAdjust="spacingAndGlyphs">71.365</text><text x="70.0" y="7.9" textLength="14.4" lengthAdjust="spacingAndGlyphs">71.245</text><text x="86.8" y="7.9" textLength="14.3" lengthAdjust="spacingAndGlyphs">71.285</text><text x="3.60" y="332.90" textLength="36.70" lengthAdjust="spacingAndGlyphs">RSI(14) 37.1242</text><text x="3.70" y="400.20" textLength="73.28" lengthAdjust="spacingAndGlyphs">MACD(12,26,9) -0.4213 -0.4238</text></g>
<rect x="1001.8" y="142" width="19.3" height="5.3" fill="#f0f0f6"/>
<text x="1004.4" y="146.7" font-family="Liberation Sans, sans-serif" font-size="6.0" fill="#14142a" stroke="#14142a" stroke-width="0.15" textLength="14.68" lengthAdjust="spacingAndGlyphs">71.285</text>
<path d="M3.4 5.2h3.6l-1.8 2.1z" fill="#e4e4f2"/>
<path d="M1.92 467V469.5 M36.08 467V469.5 M70.24 467V469.5 M104.40 467V469.5 M138.56 467V469.5 M172.72 467V469.5 M206.88 467V469.5 M241.04 467V469.5 M275.20 467V469.5 M309.36 467V469.5 M343.52 467V469.5 M377.68 467V469.5 M411.84 467V469.5 M446.00 467V469.5 M480.16 467V469.5 M514.32 467V469.5 M548.48 467V469.5 M582.64 467V469.5 M616.80 467V469.5 M650.96 467V469.5 M685.12 467V469.5 M719.28 467V469.5 M753.44 467V469.5 M787.60 467V469.5 M821.76 467V469.5 M855.92 467V469.5 M890.08 467V469.5 M924.24 467V469.5 M958.40 467V469.5 M1001.3 6.70H1003.3 M1001.3 24.30H1003.3 M1001.3 41.90H1003.3 M1001.3 59.50H1003.3 M1001.3 77.10H1003.3 M1001.3 94.70H1003.3 M1001.3 112.30H1003.3 M1001.3 129.90H1003.3 M1001.3 147.50H1003.3 M1001.3 165.10H1003.3 M1001.3 182.70H1003.3 M1001.3 200.30H1003.3 M1001.3 217.90H1003.3 M1001.3 235.50H1003.3 M1001.3 253.10H1003.3 M1001.3 270.70H1003.3 M1001.3 288.30H1003.3 M1001.3 305.90H1003.3 M1001.3 323.50H1003.3" stroke="#b8b8d0" stroke-width="0.8"/>
</g>
</svg></body></html>
